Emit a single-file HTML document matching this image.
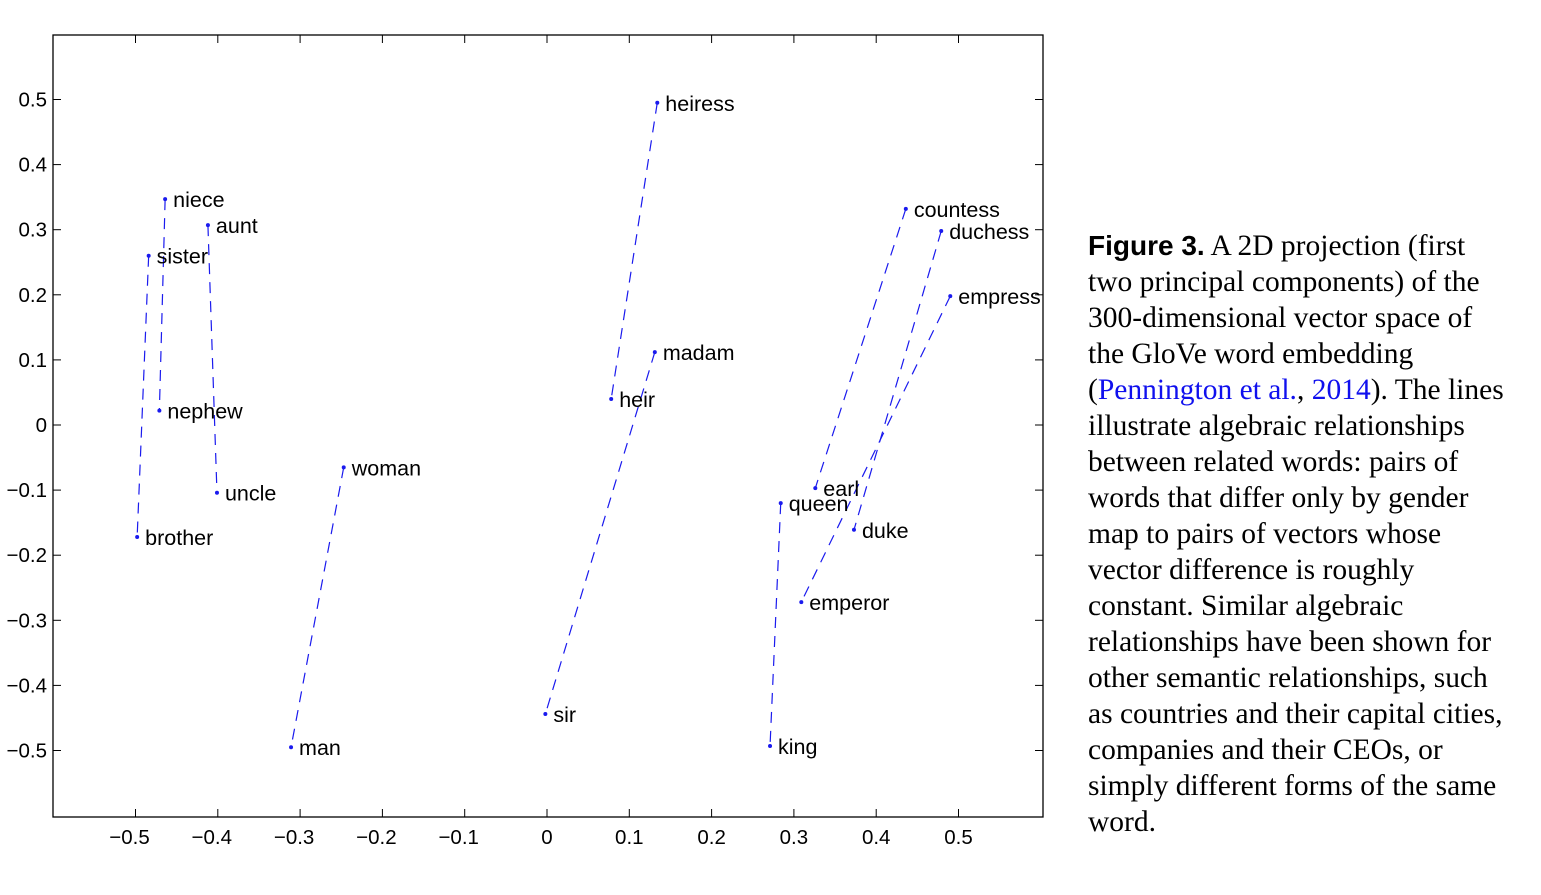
<!DOCTYPE html>
<html><head><meta charset="utf-8"><style>
body{margin:0;background:#fff;width:1541px;height:895px;overflow:hidden;position:relative}
svg{position:absolute;left:0;top:0}
.cap{position:absolute;left:1088px;font-family:"Liberation Serif",serif;font-size:29.5px;color:#000;white-space:nowrap;line-height:36px}
.fig{font-family:"Liberation Sans",sans-serif;font-weight:bold;font-size:28px}
.ref{color:#1010ee}
</style></head><body>
<svg id="chart" width="1541" height="895"></svg>
<div id="caption"></div>
<script>
const words=["heiress","niece","aunt","sister","nephew","uncle","brother","woman","man","madam","heir","sir","countess","duchess","empress","earl","queen","duke","emperor","king"];
const xs=[0.134,-0.464,-0.412,-0.484,-0.471,-0.401,-0.498,-0.247,-0.311,0.131,0.078,-0.002,0.436,0.479,0.490,0.326,0.284,0.373,0.309,0.271];
const ys=[0.495,0.347,0.307,0.260,0.022,-0.104,-0.172,-0.065,-0.495,0.112,0.040,-0.444,0.332,0.298,0.198,-0.097,-0.120,-0.161,-0.272,-0.493];
const pairs=[["heiress","heir"],["madam","sir"],["niece","nephew"],["aunt","uncle"],["sister","brother"],["woman","man"],["countess","earl"],["duchess","duke"],["empress","emperor"],["queen","king"]];
const xTicks=[-0.5,-0.4,-0.3,-0.2,-0.1,0,0.1,0.2,0.3,0.4,0.5];
const yTicks=[0.5,0.4,0.3,0.2,0.1,0,-0.1,-0.2,-0.3,-0.4,-0.5];
const L=53,R=1043,T=35,B=817;
const X=v=>547+v*823, Y=v=>425-v*651;
const svg=document.getElementById('chart');const NS="http://www.w3.org/2000/svg";
function mk(t,a){const e=document.createElementNS(NS,t);for(const k in a)e.setAttribute(k,a[k]);svg.appendChild(e);return e;}
const box=mk('rect',{x:L,y:T,width:R-L,height:B-T,fill:'none',stroke:'#000','stroke-width':1.3});


const fmt=v=>v===0?'0':(v<0?'\u2212':'')+String(Math.abs(v));
xTicks.forEach(v=>{const x=X(v);
 mk('line',{x1:x,x2:x,y1:B,y2:B-8,stroke:'#000'});mk('line',{x1:x,x2:x,y1:T,y2:T+8,stroke:'#000'});
 const t=mk('text',{x:x-(v<0?6:0),y:844,'text-anchor':'middle','font-family':'Liberation Sans, sans-serif','font-size':20.5});t.textContent=fmt(v);
 
 });
yTicks.forEach(v=>{const y=Y(v);
 mk('line',{x1:L,x2:L+8,y1:y,y2:y,stroke:'#000'});mk('line',{x1:R,x2:R-8,y1:y,y2:y,stroke:'#000'});
 const t=mk('text',{x:47,y:y+7,'text-anchor':'end','font-family':'Liberation Sans, sans-serif','font-size':20.5});t.textContent=fmt(v);
 
 });
pairs.forEach(p=>{const a=words.indexOf(p[0]),b=words.indexOf(p[1]);
 const l=mk('line',{x1:X(xs[a]),y1:Y(ys[a]),x2:X(xs[b]),y2:Y(ys[b]),stroke:'#1a1aee','stroke-width':1.2,'stroke-dasharray':'11,8'});
 
 });
words.forEach((w,i)=>{
 const c=mk('circle',{cx:X(xs[i]),cy:Y(ys[i]),r:2,fill:'#1a1aee'});
 
 
 const t=mk('text',{x:X(xs[i])+8,y:Y(ys[i])+8,'font-family':'Liberation Sans, sans-serif','font-size':21.5});t.textContent=w;
 
 });
const lines=['<span class="fig">Figure 3.</span> A 2D projection (first','two principal components) of the','300-dimensional vector space of','the GloVe word embedding','(<span class="ref">Pennington et al.</span>, <span class="ref">2014</span>). The lines','illustrate algebraic relationships','between related words: pairs of','words that differ only by gender','map to pairs of vectors whose','vector difference is roughly','constant. Similar algebraic','relationships have been shown for','other semantic relationships, such','as countries and their capital cities,','companies and their CEOs, or','simply different forms of the same','word.'];
const cap=document.getElementById('caption');
lines.forEach((h,i)=>{const d=document.createElement('div');d.className='cap';d.style.top=(228+i*36)+'px';d.innerHTML=h;
 
 
 cap.appendChild(d);});
</script>
</body></html>
